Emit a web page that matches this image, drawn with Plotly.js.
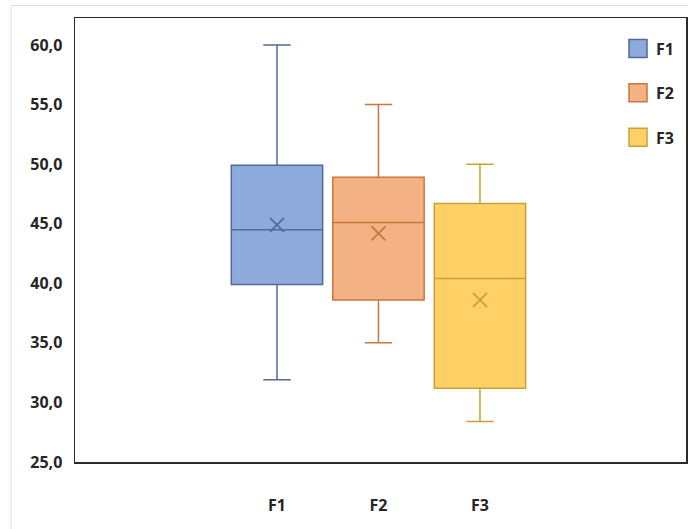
<!DOCTYPE html>
<html>
<head>
<meta charset="utf-8">
<script src="https://cdn.plot.ly/plotly-3.0.1.min.js"></script>
<style>
  html, body { margin: 0; padding: 0; background: #ffffff; }
  #chart { width: 688px; height: 529px; }
</style>
</head>
<body>
<div id="chart"></div>
<script>
// Five-number summaries plus mean for each group
const groups      = ['F1', 'F2', 'F3'];
const lowerFence  = [31.9, 35.0, 28.4];
const q1Values    = [39.9, 38.6, 31.2];
const medianVals  = [44.5, 45.1, 40.4];
const q3Values    = [49.9, 48.9, 46.7];
const upperFence  = [60.0, 55.0, 50.0];
const meanValues  = [44.9, 44.2, 38.6];
const yTicks      = [25, 30, 35, 40, 45, 50, 55, 60];

const fillColors  = ['#8eaadc', '#f4b183', '#ffd066'];
const lineColors  = ['#4f6b96', '#c8773e', '#c9a236'];

const FONT = 'Open Sans, Noto Sans, sans-serif';
const TEXT = '#262626';

const traces = [];
groups.forEach((g, i) => {
  traces.push({
    type: 'box',
    name: g,
    x: [g],
    q1: [q1Values[i]],
    median: [medianVals[i]],
    q3: [q3Values[i]],
    lowerfence: [lowerFence[i]],
    upperfence: [upperFence[i]],
    width: 0.9,
    whiskerwidth: 0.3,
    fillcolor: fillColors[i],
    line: { color: lineColors[i], width: 1.5 },
    boxpoints: false,
    showlegend: false,
    hoverinfo: 'skip'
  });
  // mean marker
  traces.push({
    type: 'scatter',
    mode: 'markers',
    x: [g],
    y: [meanValues[i]],
    marker: { symbol: 'x-thin-open', size: 14, color: lineColors[i], line: { color: lineColors[i], width: 1.8 } },
    showlegend: false,
    hoverinfo: 'skip'
  });
});

// plot-area geometry in pixels (used for the hand-placed legend)
const W = 688, H = 529;
const M = { l: 75, r: 2, t: 17.5, b: 66.5 };
const pw = W - M.l - M.r, ph = H - M.t - M.b;
const px2x = p => (p - M.l) / pw;
const py2y = p => (H - M.b - p) / ph;

const shapes = [];
const annotations = [];

// faint outer chart border
shapes.push({
  type: 'rect', xref: 'paper', yref: 'paper',
  x0: px2x(11), x1: px2x(W + 20), y0: py2y(H + 20), y1: py2y(5),
  line: { color: '#dcdcdc', width: 1 }, fillcolor: 'rgba(0,0,0,0)', layer: 'below'
});

// legend entries
groups.forEach((g, i) => {
  const top = 39 + i * 44.5;
  shapes.push({
    type: 'rect', xref: 'paper', yref: 'paper',
    x0: px2x(629), x1: px2x(647), y0: py2y(top + 18), y1: py2y(top),
    fillcolor: fillColors[i], line: { color: lineColors[i], width: 1.5 }
  });
  annotations.push({
    xref: 'paper', yref: 'paper', x: px2x(654), y: py2y(top + 9.5),
    xanchor: 'left', yanchor: 'middle', showarrow: false, text: g,
    font: { family: FONT, size: 16, color: TEXT, weight: 'bold' }
  });
});

const layout = {
  width: W, height: H,
  margin: M,
  paper_bgcolor: '#ffffff',
  plot_bgcolor: '#ffffff',
  separators: ', ',
  showlegend: false,
  xaxis: {
    type: 'category',
    categoryarray: groups,
    range: [-1.99, 4.03],
    showline: true, mirror: true, linecolor: '#2b2b2b', linewidth: 1.5,
    showgrid: false, zeroline: false, ticks: '',
    ticklabelstandoff: 28,
    tickfont: { family: FONT, size: 16, color: TEXT, weight: 'bold' },
    fixedrange: true
  },
  yaxis: {
    range: [25, 62.27],
    tickvals: yTicks,
    tickformat: '.1f',
    showline: true, mirror: true, linecolor: '#2b2b2b', linewidth: 1.5,
    showgrid: false, zeroline: false, ticks: '',
    ticklabelstandoff: 8,
    tickfont: { family: FONT, size: 16, color: TEXT, weight: 'bold' },
    fixedrange: true
  },
  shapes: shapes,
  annotations: annotations
};

Plotly.newPlot('chart', traces, layout, { displayModeBar: false, staticPlot: true });
</script>
</body>
</html>
